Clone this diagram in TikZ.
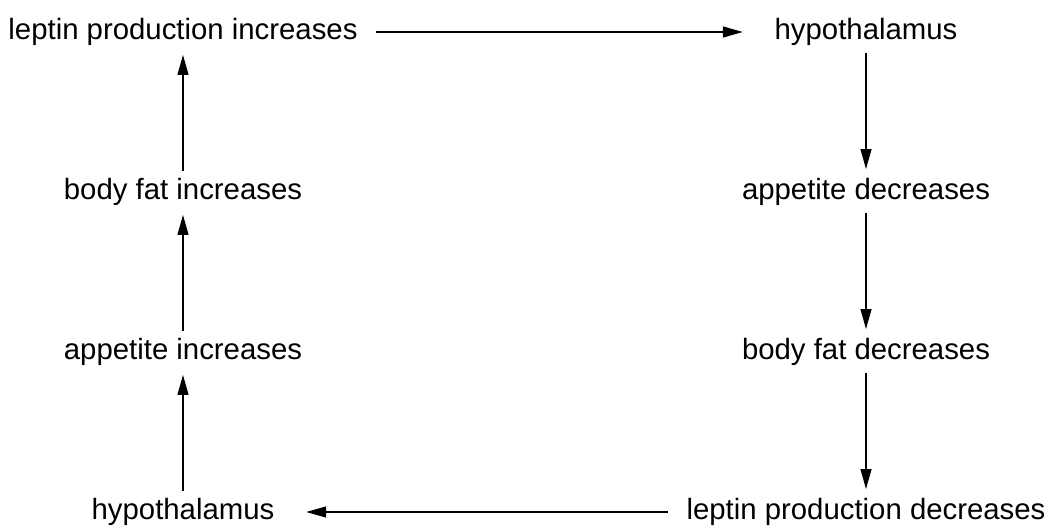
\documentclass[tikz,border=0pt]{standalone}
\usepackage{fontspec}
\setmainfont{Liberation Sans}
\usepackage{xcolor}
\usetikzlibrary{arrows.meta}

\begin{document}
\begin{tikzpicture}[
    stage/.style={font=\fontsize{16.7}{20}\selectfont, inner sep=0pt, text height=12pt, text depth=3.5pt},
    vflow/.style={-{Triangle[length=0.4cm,width=0.22cm]}, line width=0.7pt, shorten <=0.14cm, shorten >=0.18cm},
    hflow/.style={-{Triangle[length=0.4cm,width=0.22cm]}, line width=0.7pt, shorten <=0.37cm, shorten >=0.63cm}]
    % Here is the page size
    \useasboundingbox (0,0) rectangle (21.02,10.56);

    % left column
    \node[stage] (leptinup) at (3.66,9.92) {leptin production increases};
    \node[stage] (fatup) at (3.66,6.72) {body fat increases};
    \node[stage] (appup) at (3.66,3.52) {appetite increases};
    \node[stage] (hypolow) at (3.66,0.32) {hypothalamus};

    % right column
    \node[stage] (hypotop) at (17.32,9.92) {hypothalamus};
    \node[stage] (appdown) at (17.32,6.72) {appetite decreases};
    \node[stage] (fatdown) at (17.32,3.52) {body fat decreases};
    \node[stage] (leptindown) at (17.32,0.32) {leptin production decreases};

    % Here are the arrows
    \draw[hflow] (leptinup) -- (hypotop);
    \draw[vflow] (hypotop) -- (appdown);
    \draw[vflow] (appdown) -- (fatdown);
    \draw[vflow] (fatdown) -- (leptindown);
    \draw[hflow] (leptindown) -- (hypolow);
    \draw[vflow] (hypolow) -- (appup);
    \draw[vflow] (appup) -- (fatup);
    \draw[vflow] (fatup) -- (leptinup);
\end{tikzpicture}
\end{document}
